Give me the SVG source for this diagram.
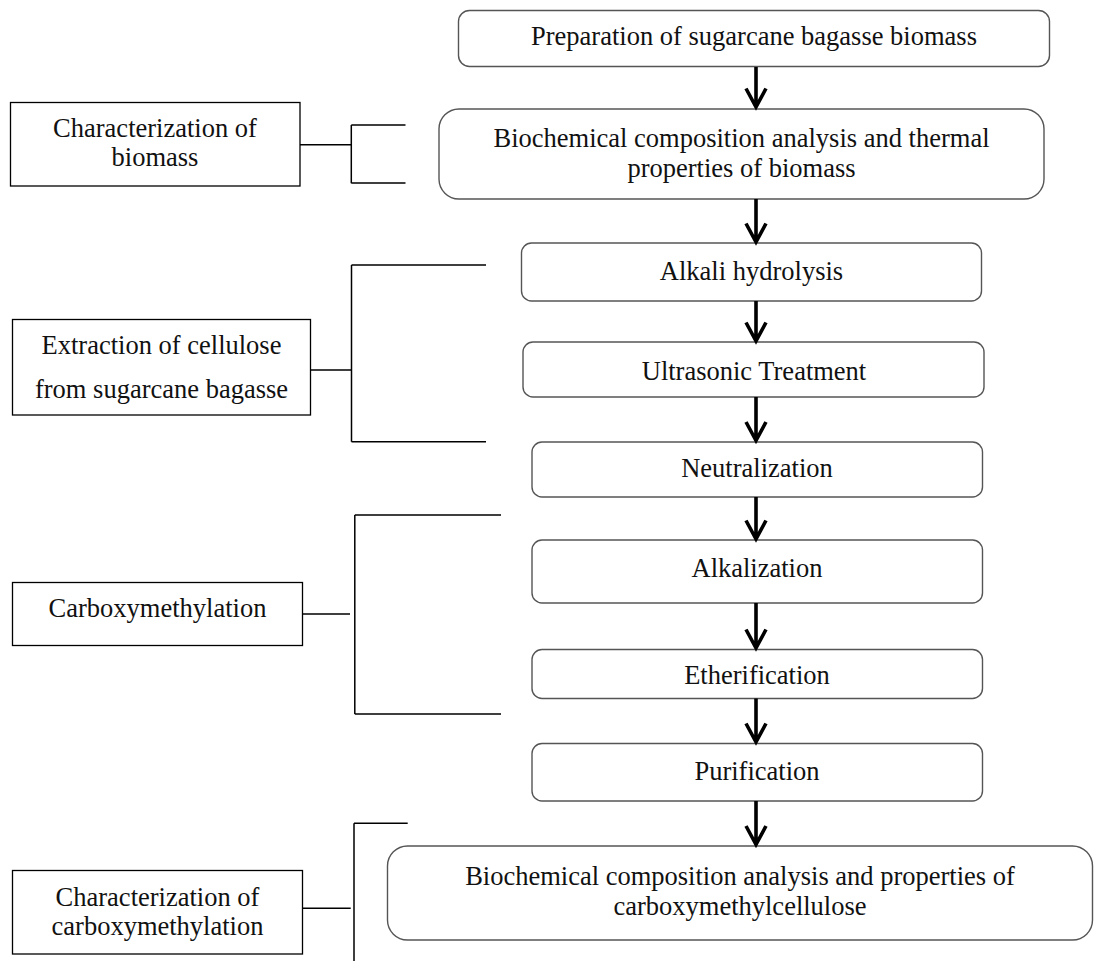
<svg xmlns="http://www.w3.org/2000/svg" width="1096" height="961" viewBox="0 0 1096 961">
<style>
  .step{fill:#fff;stroke:#555;stroke-width:1.4}
  .side{fill:#fff;stroke:#000;stroke-width:1.3}
  text{font-family:"Liberation Serif","Times New Roman",serif;font-size:26.5px;fill:#111;text-anchor:middle}
  .br{fill:none;stroke:#000;stroke-width:1.5}
  .ar{fill:none;stroke:#000;stroke-width:3.6}
</style>
<rect width="1096" height="961" fill="#fff"/>

<g id="prep"><rect class="step" x="458.5" y="10.5" width="591" height="56" rx="11"/><text x="754" y="45">Preparation of sugarcane bagasse biomass</text></g>
<g id="biochem1"><rect class="step" x="439" y="109" width="605" height="90" rx="20"/><text x="741.5" y="147">Biochemical composition analysis and thermal</text><text x="741.5" y="177">properties of biomass</text></g>
<g id="alkali"><rect class="step" x="521.5" y="243" width="460" height="58" rx="10"/><text x="751.5" y="280">Alkali hydrolysis</text></g>
<g id="ultra"><rect class="step" x="523" y="342" width="461" height="55" rx="10"/><text x="754" y="380">Ultrasonic Treatment</text></g>
<g id="neutral"><rect class="step" x="532" y="442" width="450.5" height="55" rx="10"/><text x="757" y="477">Neutralization</text></g>
<g id="alkaliz"><rect class="step" x="532" y="540" width="450.5" height="63" rx="10"/><text x="757" y="577">Alkalization</text></g>
<g id="ether"><rect class="step" x="532" y="649.5" width="450.5" height="49" rx="10"/><text x="757" y="684">Etherification</text></g>
<g id="purif"><rect class="step" x="532" y="743.5" width="450.5" height="57.5" rx="10"/><text x="757" y="779.5">Purification</text></g>
<g id="biochem2"><rect class="step" x="387.5" y="846" width="705" height="94" rx="20"/><text x="740" y="885">Biochemical composition analysis and properties of</text><text x="740" y="915">carboxymethylcellulose</text></g>

<g id="charbio"><rect class="side" x="10.5" y="102.5" width="289.5" height="83.5"/><text x="155" y="136.5">Characterization of</text><text x="155" y="165.5">biomass</text></g>
<g id="extract"><rect class="side" x="12.5" y="319.5" width="298" height="95.5"/><text x="161.5" y="353.5">Extraction of cellulose</text><text x="161.5" y="398">from sugarcane bagasse</text></g>
<g id="carboxy"><rect class="side" x="12.5" y="582.5" width="290" height="63"/><text x="157.5" y="617">Carboxymethylation</text></g>
<g id="charcmc"><rect class="side" x="12.5" y="870.5" width="290" height="83.5"/><text x="157.5" y="905.5">Characterization of</text><text x="157.5" y="935">carboxymethylation</text></g>

<g id="connectors">
  <path class="br" d="M300 144.7H350.6M351.3 125V183.3M351.3 125H405.5M351.3 183H405.5"/>
  <path class="br" d="M310.5 370H352M351.5 265V441.7M351.5 265H486M351.5 441.7H486"/>
  <path class="br" d="M302.5 614H350M354.8 515V714M354.8 515H501M354.8 714H501"/>
  <path class="br" d="M302.5 908.3H350.7M354 823.3V961M354 823.3H407.7"/>
  <path class="ar" d="M756 67V106M746 88.5L756 107L766 88.5"/>
  <path class="ar" d="M756 199V241M746 223.5L756 242L766 223.5"/>
  <path class="ar" d="M756 301V340M746 322.5L756 341L766 322.5"/>
  <path class="ar" d="M756 397V440M746 422L756 440.5L766 422"/>
  <path class="ar" d="M756 497V538M746 520.5L756 539L766 520.5"/>
  <path class="ar" d="M756 603V647M746 629.5L756 648L766 629.5"/>
  <path class="ar" d="M756 698.5V741M746 723.5L756 742L766 723.5"/>
  <path class="ar" d="M756 801V844M746 826L756 844.5L766 826"/>
</g>
</svg>
